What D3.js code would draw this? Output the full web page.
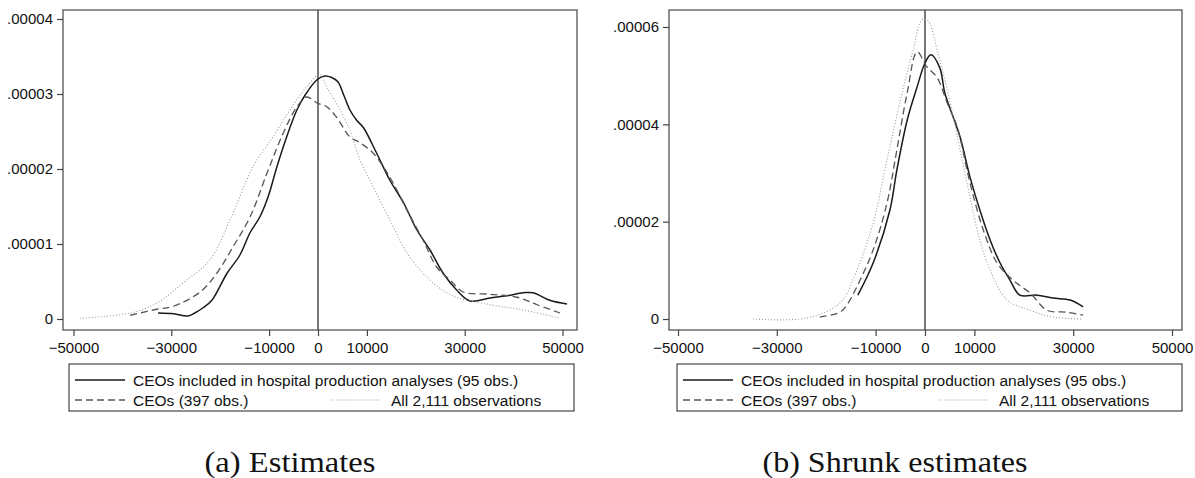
<!DOCTYPE html>
<html>
<head>
<meta charset="utf-8">
<script src="https://cdn.jsdelivr.net/npm/d3@7"></script>
<style>
  body { margin: 0; background: #fff; }
  svg text { font-family: "Liberation Sans", Arial, sans-serif; }
</style>
</head>
<body>
<div id="chart"></div>
<script>
// density values are stored in units of 1e-6
const xTicks = [-50000, -30000, -10000, 0, 10000, 30000, 50000];
const seriesLabels = ['CEOs included in hospital production analyses (95 obs.)', 'CEOs (397 obs.)', 'All 2,111 observations'];
const captions = ['(a) Estimates', '(b) Shrunk estimates'];

// (a) estimates
const aSolidX = [-32700, -29500, -26600, -25200, -23500, -21700, -18600, -16000, -13900, -11900, -10200, -8400, -6400, -4300, -2500, -200, 1400, 2800, 4100, 5300, 6500, 7900, 9300, 12000, 14700, 17500, 20200, 22900, 25600, 28300, 31100, 35200, 38600, 42000, 44000, 47400, 50900];
const aSolidY = [0.8, 0.7, 0.4, 0.8, 1.5, 2.5, 6.1, 8.5, 11.5, 13.6, 16.3, 20.3, 24.3, 27.9, 30.0, 31.9, 32.4, 32.2, 31.6, 29.8, 27.9, 26.5, 25.5, 22.1, 18.5, 15.5, 11.9, 9.2, 6.1, 3.9, 2.4, 2.8, 3.1, 3.5, 3.5, 2.5, 2.0];
const aDashX = [-38400, -33000, -29600, -24100, -20700, -17400, -13900, -10400, -7100, -4300, -2300, -200, 1800, 3800, 6500, 8600, 11300, 14700, 18200, 21500, 24300, 27000, 29700, 35200, 40700, 44800, 49500];
const aDashY = [0.5, 1.3, 1.7, 3.6, 6.1, 9.6, 13.6, 19.5, 24.8, 28.3, 29.6, 28.8, 28.3, 26.9, 24.3, 23.5, 22.1, 18.9, 14.5, 10.5, 6.9, 5.2, 3.6, 3.3, 2.9, 1.9, 0.8];
const aDotX = [-48700, -38400, -33000, -27600, -22100, -17400, -13300, -9200, -5700, -2500, 400, 1800, 4500, 6500, 8600, 11300, 14700, 18200, 21500, 24900, 28300, 35200, 42000, 49500];
const aDotY = [0.1, 0.8, 2.1, 4.8, 7.9, 14.1, 20.3, 24.3, 27.9, 30.8, 32.6, 30.9, 27.9, 25.2, 21.2, 17.6, 13.2, 8.8, 6.1, 4.1, 2.9, 1.9, 1.2, 0.1];

// (b) shrunk estimates
const bSolidX = [-13600, -10500, -7100, -5700, -3600, -1600, 0, 1200, 3000, 4000, 5700, 7100, 9100, 11100, 13200, 15200, 17200, 19200, 22700, 25900, 29400, 32000];
const bSolidY = [4.9, 11.5, 22.4, 30.6, 40.9, 47.7, 52.6, 54.3, 51.6, 46.5, 41.5, 37.4, 29.2, 22.4, 16.2, 11.5, 8.0, 4.9, 4.9, 4.3, 3.9, 2.5];
const bDashX = [-21300, -17200, -15800, -13800, -10500, -7700, -5700, -3600, -1600, 400, 2400, 4500, 6500, 9100, 11800, 14600, 17800, 21300, 24700, 28700, 32000];
const bDashY = [0.4, 1.4, 2.9, 6.6, 14.2, 23.8, 34.7, 46.5, 54.9, 51.8, 49.7, 44.4, 39.5, 28.0, 18.3, 11.5, 8.0, 5.3, 1.8, 1.4, 0.8];
const bDotX = [-34800, -23900, -17200, -13800, -10500, -7700, -5100, -2400, -600, 600, 2600, 5100, 7100, 9100, 11100, 13200, 16600, 21300, 25900, 32000];
const bDotY = [0, 0.2, 3.3, 10.0, 19.7, 32.7, 44.4, 55.3, 61.5, 61.3, 54.7, 44.4, 34.7, 25.1, 16.2, 10.0, 3.9, 1.8, 0.4, 0];

const styles = [
    { stroke: '#1a1a1a', width: 1.5, dash: null },
    { stroke: '#555', width: 1.3, dash: '7,4' },
    { stroke: '#9a9a9a', width: 1.1, dash: '1,2' }
];

const svg = d3.select('#chart').append('svg')
    .attr('width', 1195)
    .attr('height', 478);

function fmtY(d) {
    if (d === 0) return '0';
    return (d * 1e-6).toFixed(5).replace(/^0/, '');
}

function drawPanel(p) {
    const g = svg.append('g');
    const x = d3.scaleLinear().domain([-50000, 50000]).range([p.x0, p.x1]);
    const y = d3.scaleLinear().domain([0, p.yMax]).range([319, p.yTop]);

    // frame
    g.append('rect')
        .attr('x', p.left).attr('y', 10)
        .attr('width', p.right - p.left).attr('height', 320)
        .attr('fill', 'none').attr('stroke', '#444').attr('stroke-width', 1.2);

    const xAxis = g.append('g')
        .attr('transform', 'translate(0,330)')
        .call(d3.axisBottom(x).tickValues(xTicks).tickSize(6).tickPadding(6).tickFormat(d3.format('d')));
    const yAxis = g.append('g')
        .attr('transform', `translate(${p.left},0)`)
        .call(d3.axisLeft(y).tickValues(p.yTicks).tickSize(6).tickPadding(4).tickFormat(fmtY));
    [xAxis, yAxis].forEach(a => {
        a.select('.domain').remove();
        a.selectAll('line').attr('stroke', '#444').attr('stroke-width', 1.2);
        a.selectAll('text').attr('fill', '#111').style('font-size', '15px');
    });

    // vertical line at zero
    g.append('line')
        .attr('x1', x(0)).attr('x2', x(0))
        .attr('y1', 10).attr('y2', 330)
        .attr('stroke', '#555').attr('stroke-width', 1.6);

    const line = d3.line()
        .x(d => x(d[0]))
        .y(d => y(d[1]))
        .curve(d3.curveCatmullRom.alpha(0.5));

    p.series.forEach((s, i) => {
        const pts = s[0].map((v, j) => [v, s[1][j]]);
        g.append('path')
            .attr('d', line(pts))
            .attr('fill', 'none')
            .attr('stroke', styles[i].stroke)
            .attr('stroke-width', styles[i].width)
            .attr('stroke-dasharray', styles[i].dash);
    });

    // legend
    const lg = g.append('g');
    lg.append('rect')
        .attr('x', p.legX).attr('y', 364)
        .attr('width', 505).attr('height', 47)
        .attr('fill', 'none').attr('stroke', '#222').attr('stroke-width', 1);
    const rows = [
        { i: 0, sx: p.legX + 6, tx: p.legX + 64, y: 380 },
        { i: 1, sx: p.legX + 6, tx: p.legX + 64, y: 400 },
        { i: 2, sx: p.legX + 262, tx: p.legX + 322, y: 400 }
    ];
    rows.forEach(r => {
        lg.append('line')
            .attr('x1', r.sx).attr('x2', r.sx + 50)
            .attr('y1', r.y).attr('y2', r.y)
            .attr('stroke', styles[r.i].stroke)
            .attr('stroke-width', r.i === 2 ? 0.9 : styles[r.i].width)
            .attr('stroke-dasharray', r.i === 2 ? '1,1.5' : styles[r.i].dash);
        lg.append('text')
            .attr('x', r.tx).attr('y', r.y + 5.5)
            .attr('fill', '#111')
            .style('font-size', '15.5px')
            .text(seriesLabels[r.i]);
    });

    svg.append('text')
        .attr('x', p.capX).attr('y', 472)
        .attr('text-anchor', 'middle')
        .attr('textLength', p.capW)
        .attr('lengthAdjust', 'spacingAndGlyphs')
        .style('font-family', '"Liberation Serif", "DejaVu Serif", serif')
        .style('font-size', '29px')
        .attr('fill', '#111')
        .text(p.caption);
}

drawPanel({
    left: 63, right: 577, x0: 73.5, x1: 562.5,
    yMax: 40, yTop: 19, yTicks: [0, 10, 20, 30, 40],
    series: [[aSolidX, aSolidY], [aDashX, aDashY], [aDotX, aDotY]],
    legX: 69, capX: 290, capW: 171, caption: captions[0]
});

drawPanel({
    left: 669, right: 1182, x0: 678, x1: 1172,
    yMax: 60, yTop: 27, yTicks: [0, 20, 40, 60],
    series: [[bSolidX, bSolidY], [bDashX, bDashY], [bDotX, bDotY]],
    legX: 677, capX: 895, capW: 265, caption: captions[1]
});
</script>
</body>
</html>
